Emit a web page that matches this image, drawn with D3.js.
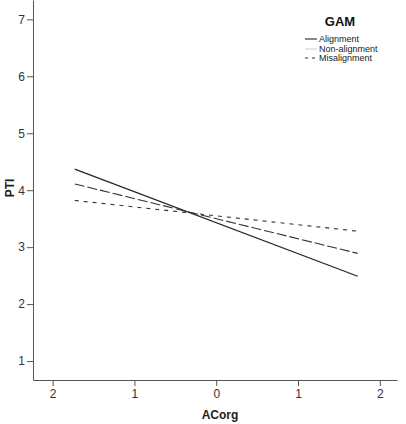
<!DOCTYPE html>
<html><head><meta charset="utf-8">
<script src="https://cdn.jsdelivr.net/npm/d3@7"></script>
<style>body{margin:0;background:#fff}svg{display:block}text{font-family:"Liberation Sans",Arial,sans-serif}</style>
</head><body><svg id="c" width="406" height="424"></svg>
<script>
const xTicks = [-2, -1, 0, 1, 2];
const xTickLabels = ["2", "1", "0", "1", "2"];
const yTicks = [1, 2, 3, 4, 5, 6, 7];
const seriesNames = ["Alignment", "Non-alignment", "Misalignment"];
const xEnds = [-1.73, 1.73];
const alignmentVals = [4.37, 2.49];
const nonAlignmentVals = [4.11, 2.89];
const misalignmentVals = [3.82, 3.28];

const svg = d3.select("#c");
const x = d3.scaleLinear().domain([-2.24, 2.21]).range([33, 397]);
const y = d3.scaleLinear().domain([0.667, 7.34]).range([380, 0]);
const axisColor = "#555";

// axes
const ya = svg.append("g").attr("transform", "translate(33,0)")
  .call(d3.axisLeft(y).tickValues(yTicks).tickSize(6).tickSizeOuter(0).tickFormat(d3.format("d")));
const xa = svg.append("g").attr("transform", "translate(0,380)")
  .call(d3.axisBottom(x).tickValues(xTicks).tickSize(6).tickSizeOuter(0).tickFormat((d, i) => xTickLabels[i]));
[ya, xa].forEach(g => {
  g.select(".domain").attr("stroke", axisColor);
  g.selectAll(".tick line").attr("stroke", axisColor);
  g.selectAll(".tick text").attr("fill", "#333").style("font-size", "12px");
});
ya.selectAll(".tick text").attr("x", -8);
xa.selectAll(".tick text").attr("y", 9);

// lines
const styles = [
  {vals: alignmentVals, dash: null, color: "#222", w: 1.1},
  {vals: nonAlignmentVals, dash: "10,3", color: "#333", w: 1.1},
  {vals: misalignmentVals, dash: "4,5", color: "#333", w: 1.1}
];
const line = d3.line().x(d => x(d[0])).y(d => y(d[1]));
styles.forEach(s => {
  svg.append("path").datum(xEnds.map((xv, i) => [xv, s.vals[i]]))
    .attr("d", line).attr("fill", "none").attr("stroke", s.color)
    .attr("stroke-width", s.w).attr("stroke-dasharray", s.dash);
});

// axis titles
svg.append("text").attr("x", 220).attr("y", 419).attr("text-anchor", "middle")
  .style("font-size", "12px").style("font-weight", "bold").attr("fill", "#222").text("ACorg");
svg.append("text").attr("transform", "translate(14,188) rotate(-90)").attr("text-anchor", "middle")
  .style("font-size", "12px").style("font-weight", "bold").attr("fill", "#222").text("PTI");

// legend
svg.append("text").attr("x", 340).attr("y", 26).attr("text-anchor", "middle")
  .style("font-size", "13px").style("font-weight", "bold").attr("fill", "#111").text("GAM");
const legStyles = [
  {color: "#111", dash: null},
  {color: "#ccc", dash: null},
  {color: "#333", dash: "3,4"}
];
const legY = [39, 49, 58];
seriesNames.forEach((n, i) => {
  svg.append("line").attr("x1", 305).attr("x2", 317).attr("y1", legY[i]).attr("y2", legY[i])
    .attr("stroke", legStyles[i].color).attr("stroke-width", 1).attr("stroke-dasharray", legStyles[i].dash);
  svg.append("text").attr("x", 319).attr("y", legY[i] + 3).style("font-size", "9px")
    .attr("fill", "#222").text(n);
});
</script></body></html>
